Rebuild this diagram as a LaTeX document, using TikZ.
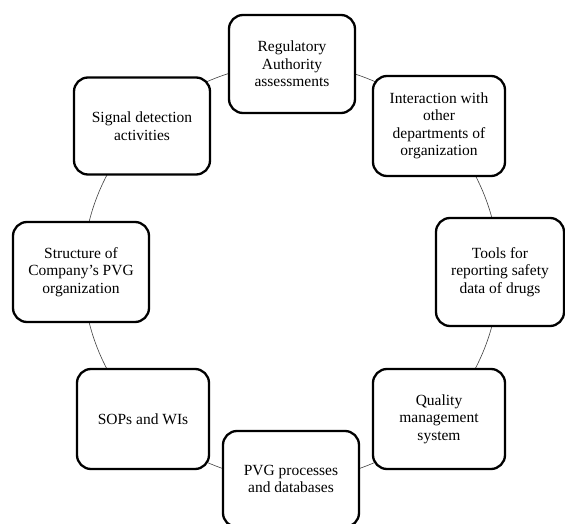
\documentclass[tikz,border=0pt]{standalone}
\usepackage{fontspec}
\setmainfont{Liberation Serif}
\begin{document}
\begin{tikzpicture}[x=1pt,y=-1pt,
  item/.style={draw=black, line width=2.3pt, rounded corners=14pt, fill=white,
    align=center, inner sep=2pt, minimum width=132pt, minimum height=100pt,
    font=\fontsize{15.5}{17.5}\selectfont},
  ring/.style={draw=black!75, line width=0.6pt}]
\useasboundingbox (0,0) rectangle (565,524);
\clip (0,0) rectangle (565,524);
\coordinate (c) at (291,272);
\draw[ring] (c) circle[radius=208];
\node[item, minimum width=126pt, minimum height=98pt] (b1) at (292,64) {Regulatory\\Authority\\assessments};
\node[item] (b2) at (439,126) {Interaction with\\other\\departments of\\organization};
\node[item, minimum width=128pt, minimum height=108pt] (b3) at (500,272) {Tools for\\reporting safety\\data of drugs};
\node[item] (b4) at (439,419) {Quality\\management\\system};
\node[item, minimum width=136pt, minimum height=96pt] (b5) at (291,479) {PVG processes\\and databases};
\node[item] (b6) at (143,419) {SOPs and WIs};
\node[item, minimum width=136pt, minimum height=100pt] (b7) at (81,272) {Structure of\\Company's PVG\\organization};
\node[item, minimum width=136pt, minimum height=97pt] (b8) at (142,126) {Signal detection\\activities};
\end{tikzpicture}
\end{document}
